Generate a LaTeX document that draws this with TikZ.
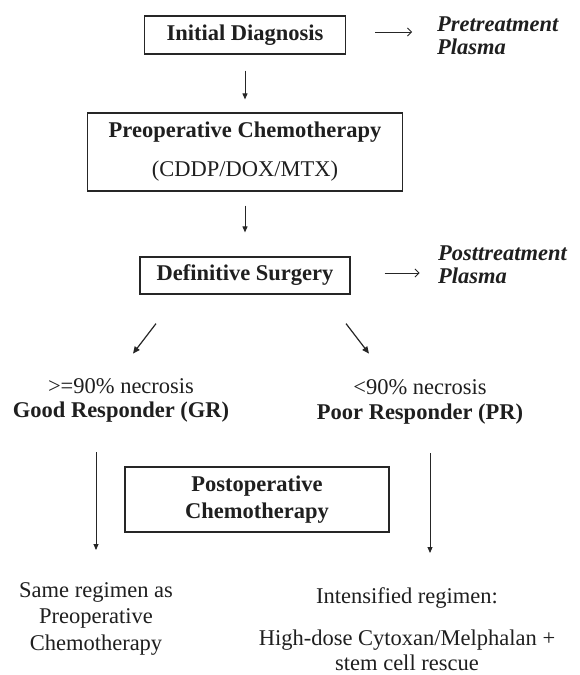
\documentclass[tikz,border=0pt]{standalone}
\usepackage{fontspec}
\setmainfont{Liberation Serif}
\usetikzlibrary{arrows.meta}
\begin{document}
\begin{tikzpicture}[x=1pt,y=-1pt,
  box/.style={draw=black!85, line width=1.2pt, inner sep=0pt, align=center, text=black!88, font=\fontsize{22.5}{26}\selectfont\bfseries},
  txt/.style={inner sep=0pt, align=center, text=black!88},
  varr/.style={draw=black!85, line width=0.9pt, -{Triangle[length=6pt,width=5pt]}},
  darr/.style={draw=black!85, line width=1.2pt, -{Triangle[length=7pt,width=6pt]}},
  harr/.style={draw=black!85, line width=0.9pt, -{Straight Barb[length=4pt,width=8pt]}},
]
\useasboundingbox (0,0) rectangle (580,675);
\fill[white] (0,0) rectangle (580,675);

% boxes
\node[box, minimum width=201pt, minimum height=38pt] (init) at (245,35) {Initial Diagnosis};
\node[box, minimum width=315pt, minimum height=78pt] (preop) at (245,152) {Preoperative Chemotherapy\\[13pt]\mdseries (CDDP/DOX/MTX)};
\node[box, minimum width=210pt, minimum height=37pt] (surg) at (245,275.5) {Definitive Surgery};
\node[box, minimum width=264pt, minimum height=65pt, font=\fontsize{22.5}{27}\selectfont\bfseries] (post) at (257,499.5) {Postoperative\\Chemotherapy};

% side texts
\node[txt, anchor=west, align=left, font=\fontsize{22.5}{23}\selectfont\bfseries\itshape] (prep) at (437,36) {Pretreatment\\Plasma};
\node[txt, anchor=west, align=left, font=\fontsize{22.5}{23}\selectfont\bfseries\itshape] (postp) at (438,264.5) {Posttreatment\\Plasma};

% responders
\node[txt, font=\fontsize{22.5}{24}\selectfont] (gr) at (121,400) {>=90\% necrosis\\\textbf{Good Responder (GR)}};
\node[txt, font=\fontsize{22.5}{25}\selectfont] (pr) at (420,401.5) {<90\% necrosis\\\textbf{Poor Responder (PR)}};

% outcomes
\node[txt, font=\fontsize{22.5}{26.5}\selectfont] (same) at (96,618.5) {Same regimen as\\Preoperative\\Chemotherapy};
\node[txt, font=\fontsize{22.5}{25}\selectfont] (int) at (407,629.5) {Intensified regimen:\\[17pt]High-dose Cytoxan/Melphalan +\\stem cell rescue};

% connectors
\draw[varr] ([yshift=-16pt]init.south) -- ([yshift=13pt]preop.north);
\draw[varr] ([yshift=-14pt]preop.south) -- ([yshift=24pt]surg.north);
\draw[harr] ([shift={(29pt,3pt)}]init.east) -- ++(37,0);
\draw[harr] ([shift={(34pt,2.5pt)}]surg.east) -- ++(35,0);
\draw[darr] ([shift={(-89pt,-29pt)}]surg.south) -- ++(-23,30);
\draw[darr] ([shift={(101pt,-29pt)}]surg.south) -- ++(23,30);
\draw[varr] ([shift={(-25pt,-52pt)}]gr.center) -- ++(0,98);
\draw[varr] ([shift={(10pt,-51.5pt)}]pr.center) -- ++(0,100);
\end{tikzpicture}
\end{document}
